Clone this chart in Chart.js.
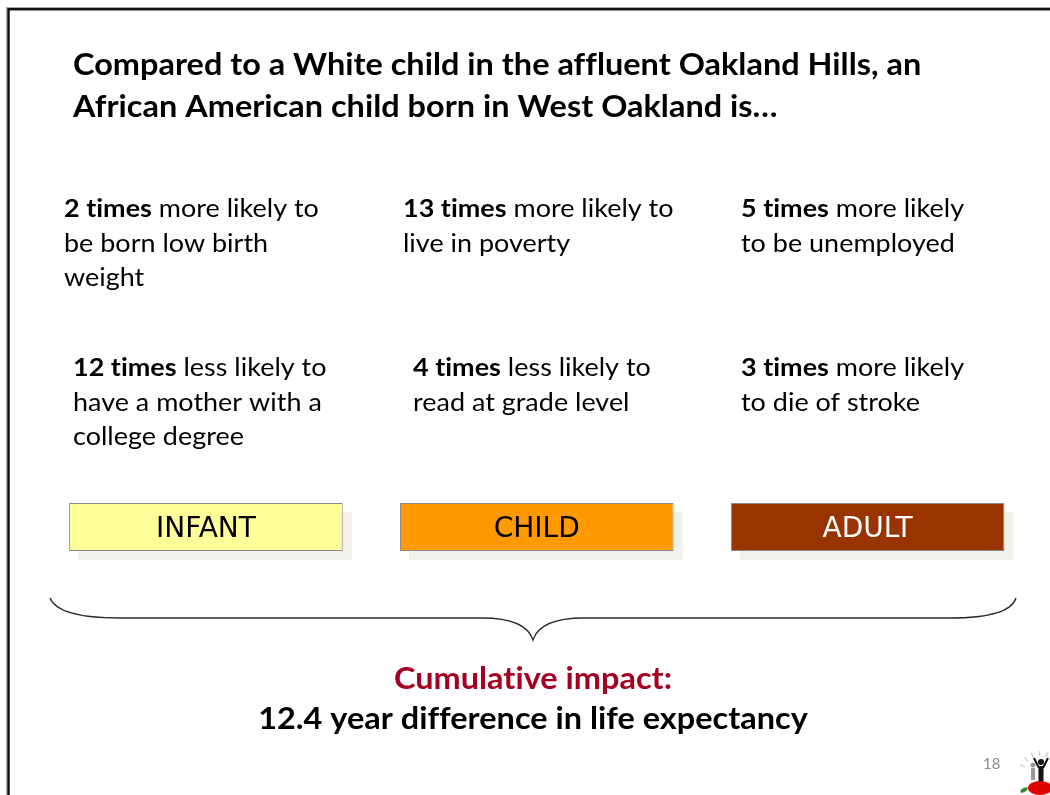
<!DOCTYPE html>
<html>
<head>
<meta charset="utf-8">
<script src="https://cdn.jsdelivr.net/npm/chart.js@4/dist/chart.umd.min.js"></script>
<style>
html,body{margin:0;padding:0;background:#fff;}
#wrap{width:1050px;height:795px;position:relative;}
canvas{display:block;}
</style>
</head>
<body>
<div id="wrap"><canvas id="c" width="1050" height="795"></canvas></div>
<script>
// ---- data ----
const titleLines = [
  'Compared to a White child in the affluent Oakland Hills, an',
  'African American child born in West Oakland is\u2026'
];
const stages = ['INFANT', 'CHILD', 'ADULT'];
const stageHeights = [1, 1, 1];
const factBold = ['2 times', '13 times', '5 times', '12 times', '4 times', '3 times'];
const factText = [
  [' more likely to', 'be born low birth', 'weight'],
  [' more likely to', 'live in poverty'],
  [' more likely', 'to be unemployed'],
  [' less likely to', 'have a mother with a', 'college degree'],
  [' less likely to', 'read at grade level'],
  [' more likely', 'to die of stroke']
];
const impactLabel = 'Cumulative impact:';
const impactText = '12.4 year difference in life expectancy';
const pageNumber = '18';

// ---- styles / layout ----
const stageFill = ['#FFFF99', '#FF9900', '#993300'];
const stageTextColor = ['#000000', '#000000', '#ffffff'];
const factPos = [[64, 217], [403, 217], [741, 217], [73, 376], [413, 376], [741, 376]];
const lineGap = 34.5;
const BODY = 'Lato, "Open Sans", sans-serif';
const SX = 1.1; // horizontal stretch to match the slide's font widths

function runsWidth(ctx, runs, size) {
  let w = 0;
  runs.forEach(r => {
    ctx.font = (r.bold ? 'bold ' : '') + size + 'px ' + BODY;
    w += ctx.measureText(r.t).width;
  });
  return w * SX;
}
function drawRuns(ctx, x, y, runs, size, align) {
  if ('letterSpacing' in ctx) ctx.letterSpacing = '0.01px'; // avoid ligatures
  let start = x;
  if (align === 'center') start = x - runsWidth(ctx, runs, size) / 2;
  ctx.save();
  ctx.textAlign = 'left';
  ctx.translate(start, y);
  ctx.scale(SX, 1);
  let cx = 0;
  runs.forEach(r => {
    ctx.font = (r.bold ? 'bold ' : '') + size + 'px ' + BODY;
    ctx.fillText(r.t, cx, 0);
    cx += ctx.measureText(r.t).width;
  });
  ctx.restore();
}

const slidePlugin = {
  id: 'slide',
  beforeDraw(chart) {
    const ctx = chart.ctx;
    ctx.save();
    ctx.fillStyle = '#ffffff';
    ctx.fillRect(0, 0, chart.width, chart.height);
    ctx.strokeStyle = '#b0b0b0';
    ctx.lineWidth = 1;
    ctx.strokeRect(6.5, 7.5, 1200, 1000);
    ctx.strokeStyle = '#111111';
    ctx.lineWidth = 2.5;
    ctx.strokeRect(8.5, 9.2, 1200, 1000);
    ctx.restore();
  },
  beforeDatasetsDraw(chart) {
    const ctx = chart.ctx;
    const meta = chart.getDatasetMeta(0);
    ctx.save();
    ctx.fillStyle = '#f1f0eb';
    meta.data.forEach(b => {
      const w = b.width, h = b.base - b.y;
      ctx.fillRect(b.x - w / 2 + 9, b.y + 9, w, h);
    });
    ctx.restore();
  },
  afterDatasetsDraw(chart) {
    const ctx = chart.ctx;
    const meta = chart.getDatasetMeta(0);
    ctx.save();
    ctx.textAlign = 'center';
    ctx.textBaseline = 'alphabetic';
    ctx.font = '28px "DejaVu Sans", sans-serif';
    meta.data.forEach((b, i) => {
      ctx.fillStyle = stageTextColor[i];
      ctx.fillText(chart.data.labels[i], b.x, (b.y + b.base) / 2 + 10);
    });
    ctx.restore();
  },
  afterDraw(chart) {
    const ctx = chart.ctx;
    ctx.save();
    ctx.textBaseline = 'alphabetic';
    ctx.fillStyle = '#000000';
    // title
    drawRuns(ctx, 73, 75, [{t: titleLines[0], bold: true}], 29.5);
    drawRuns(ctx, 73, 117, [{t: titleLines[1], bold: true}], 29.5);
    // facts
    factBold.forEach((b, i) => {
      const [x, y] = factPos[i];
      const lines = factText[i];
      drawRuns(ctx, x, y, [{t: b, bold: true}, {t: lines[0], bold: false}], 24.5);
      for (let k = 1; k < lines.length; k++) {
        drawRuns(ctx, x, y + k * lineGap, [{t: lines[k], bold: false}], 24.5);
      }
    });
    // brace
    ctx.strokeStyle = '#2a2a2a';
    ctx.lineWidth = 1.3;
    ctx.beginPath();
    ctx.moveTo(50, 598);
    ctx.quadraticCurveTo(58, 618, 120, 618);
    ctx.lineTo(482, 618);
    ctx.quadraticCurveTo(526, 618, 533, 640);
    ctx.quadraticCurveTo(540, 618, 584, 618);
    ctx.lineTo(950, 618);
    ctx.quadraticCurveTo(1010, 618, 1016, 598);
    ctx.stroke();
    // cumulative impact
    ctx.fillStyle = '#A50021';
    drawRuns(ctx, 533, 689, [{t: impactLabel, bold: true}], 29.5, 'center');
    ctx.fillStyle = '#000000';
    drawRuns(ctx, 533, 729, [{t: impactText, bold: true}], 29.5, 'center');
    // page number
    ctx.textAlign = 'left';
    ctx.font = '15px ' + BODY;
    ctx.fillStyle = '#8c8c8c';
    ctx.fillText(pageNumber, 983, 769);
    // small logo
    ctx.strokeStyle = '#cfcfcf';
    ctx.lineWidth = 1.5;
    for (let a = -2.8; a <= -0.2; a += 0.4) {
      ctx.beginPath();
      ctx.moveTo(1040 + Math.cos(a) * 16, 772 + Math.sin(a) * 16);
      ctx.lineTo(1040 + Math.cos(a) * 21, 772 + Math.sin(a) * 21);
      ctx.stroke();
    }
    ctx.fillStyle = '#999999';
    ctx.beginPath(); ctx.arc(1033, 765, 2.5, 0, Math.PI * 2); ctx.fill();
    ctx.fillRect(1031, 768, 4, 12);
    ctx.fillStyle = '#111111';
    ctx.beginPath(); ctx.arc(1041, 762, 3, 0, Math.PI * 2); ctx.fill();
    ctx.fillRect(1038.5, 766, 5, 16);
    ctx.lineWidth = 2;
    ctx.strokeStyle = '#111111';
    ctx.beginPath(); ctx.moveTo(1039, 768); ctx.lineTo(1034, 758); ctx.moveTo(1043, 768); ctx.lineTo(1048, 758); ctx.stroke();
    ctx.fillStyle = '#e00000';
    ctx.beginPath(); ctx.ellipse(1040, 788, 12, 7, 0, 0, Math.PI * 2); ctx.fill();
    ctx.fillStyle = '#2e8b2e';
    ctx.beginPath(); ctx.ellipse(1024, 790, 4, 2, -0.5, 0, Math.PI * 2); ctx.fill();
    ctx.restore();
  }
};

new Chart(document.getElementById('c'), {
  type: 'bar',
  data: {
    labels: stages,
    datasets: [{
      data: stageHeights,
      backgroundColor: stageFill,
      borderColor: '#8a8a8a',
      borderWidth: 1,
      borderSkipped: false,
      barPercentage: 0.827,
      categoryPercentage: 1
    }]
  },
  options: {
    responsive: false,
    animation: false,
    events: [],
    layout: { padding: { top: 503, bottom: 244, left: 40.5, right: 17 } },
    plugins: { legend: { display: false }, tooltip: { enabled: false } },
    scales: {
      x: { display: false, offset: true },
      y: { display: false, min: 0, max: 1 }
    }
  },
  plugins: [slidePlugin]
});
</script>
</body>
</html>
